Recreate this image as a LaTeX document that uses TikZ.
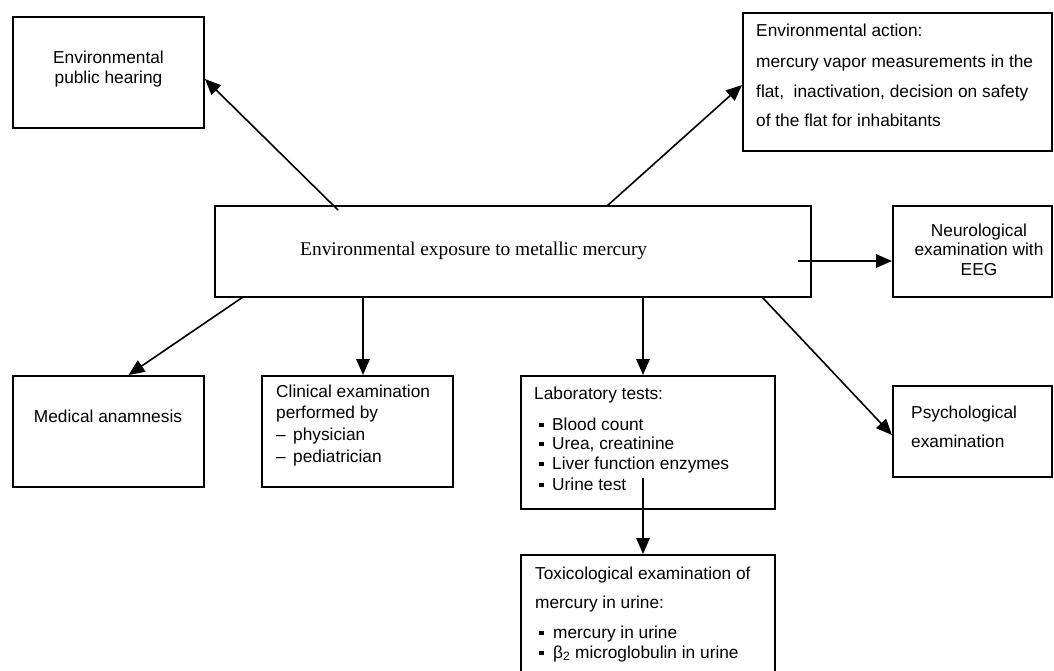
\documentclass[tikz,border=0pt]{standalone}
\usepackage{fontspec}
\setmainfont{Liberation Sans}
\newfontfamily\serifx{Liberation Serif}
\usetikzlibrary{arrows.meta,calc}
\begin{document}
\begin{tikzpicture}[x=1pt,y=-1pt,
  box/.style={draw, line width=2pt, inner sep=0pt, fill=white},
  txt/.style={inner sep=0pt, font=\fontsize{17.3}{20}\selectfont},
  lw/.style={txt, anchor=base west},
  lc/.style={txt, anchor=base},
  arr/.style={line width=1.6pt, -{Triangle[length=16pt,width=13.5pt]}}]
\path[use as bounding box] (0,0) rectangle (1054,670);
\clip (0,0) rectangle (1054,670);
\fill[white] (0,0) rectangle (1054,670);
% boxes
\node[box, minimum width=191pt, minimum height=111pt] (pub) at (108.5,72.5) {};
\node[box, minimum width=309pt, minimum height=138pt] (act) at (897.5,82) {};
\node[box, minimum width=596pt, minimum height=91pt] (cen) at (513,251.5) {};
\node[box, minimum width=159pt, minimum height=91pt] (neu) at (972.5,251.5) {};
\node[box, minimum width=159pt, minimum height=91pt] (psy) at (972.5,431.5) {};
\node[box, minimum width=191pt, minimum height=111pt] (med) at (108.5,431.5) {};
\node[box, minimum width=191pt, minimum height=111pt] (cli) at (357.5,431.5) {};
\node[box, minimum width=254pt, minimum height=133pt] (lab) at (648,442.5) {};
\node[box, minimum width=254pt, minimum height=130pt] (tox) at (648,620) {};
% texts
\node[lc] (t1) at (108.5,63) {Environmental};
\node[lc] (t2) at (108.5,83) {public hearing};
\node[lw] (t3) at (756,36) {Environmental action:};
\node[lw] (t4) at (756,67) {mercury vapor measurements in the};
\node[lw] (t5) at (756,97) {flat,\ \ inactivation, decision on safety};
\node[lw] (t6) at (756,126) {of the flat for inhabitants};
\node[anchor=base west, inner sep=0pt, font=\serifx\fontsize{19.4}{22}\selectfont] (t7) at (300,255) {Environmental exposure to metallic mercury};
\node[lc] (t8) at (979,236) {Neurological};
\node[lc] (t9) at (979,255) {examination with};
\node[lc] (t10) at (979,275) {EEG};
\node[lw] (t11) at (911,418) {Psychological};
\node[lw] (t12) at (911,447) {examination};
\node[lc] (t13) at (108,422) {Medical anamnesis};
\node[lw] (t14) at (276,397) {Clinical examination};
\node[lw] (t15) at (276,418) {performed by};
\node[lw] (t16) at (276,440) {\makebox[17pt][l]{–}physician};
\node[lw] (t17) at (276,462) {\makebox[17pt][l]{–}pediatrician};
\node[lw] (t18) at (534,399) {Laboratory tests:};
\node[lw] (t19) at (539,430) {\makebox[13pt][l]{\rule[3pt]{4.5pt}{4.5pt}}Blood count};
\node[lw] (t20) at (539,449) {\makebox[13pt][l]{\rule[3pt]{4.5pt}{4.5pt}}Urea, creatinine};
\node[lw] (t21) at (539,469) {\makebox[13pt][l]{\rule[3pt]{4.5pt}{4.5pt}}Liver function enzymes};
\node[lw] (t22) at (539,490) {\makebox[13pt][l]{\rule[3pt]{4.5pt}{4.5pt}}Urine test};
\node[lw] (t23) at (535,579) {Toxicological examination of};
\node[lw] (t24) at (535,608) {mercury in urine:};
\node[lw] (t25) at (539,638) {\makebox[14pt][l]{\rule[3pt]{4.5pt}{4.5pt}}mercury in urine};
\node[lw] (t26) at (539,658) {\makebox[14pt][l]{\rule[3pt]{4.5pt}{4.5pt}}β\textsubscript{2} microglobulin in urine};
% connector start points
\coordinate (s1) at (338,210);
\coordinate (s2) at (607,206);
\coordinate (s3) at (798,261);
\coordinate (s4) at (762,297);
\coordinate (s5) at (243,297);
\coordinate (s6) at (363,297);
\coordinate (s7) at (643,297);
\coordinate (s8) at (643,478);
% connectors
\draw[arr] (s1) -- ([yshift=-6.5pt]pub.east);
\draw[arr] (s2) -- ([yshift=-3pt]act.west);
\draw[arr] (s3) -- (s3 -| neu.west);
\draw[arr] (s4) -- ([yshift=-3.5pt]psy.west);
\draw[arr] (s5) -- ([xshift=20pt]med.north);
\draw[arr] (s6) -- (s6 |- cli.north);
\draw[arr] (s7) -- (s7 |- lab.north);
\draw[arr] (s8) -- (s8 |- tox.north);
\end{tikzpicture}
\end{document}
